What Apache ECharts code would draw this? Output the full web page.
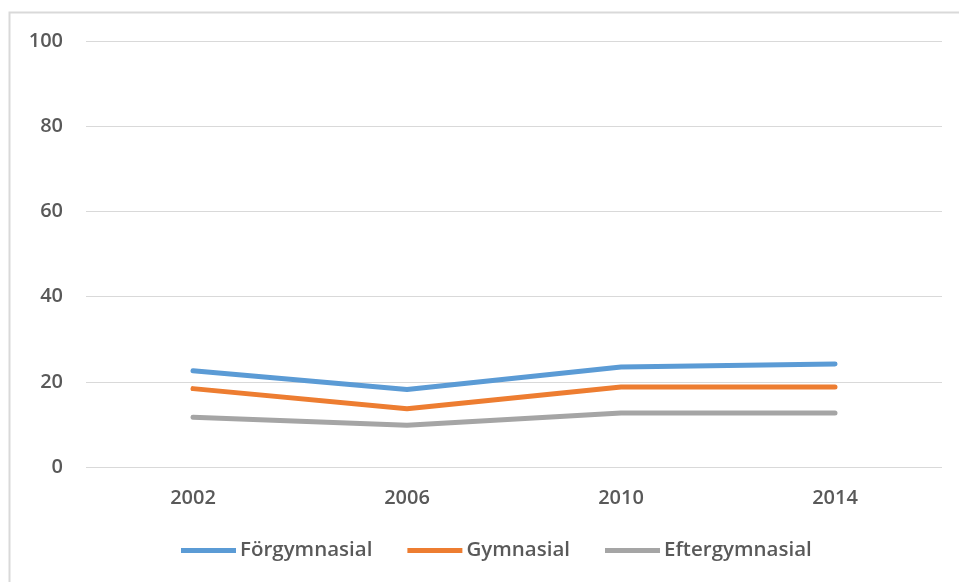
<!DOCTYPE html>
<html>
<head>
<meta charset="utf-8">
<script src="https://cdn.jsdelivr.net/npm/echarts@6/dist/echarts.min.js"></script>
<style>
  html, body { margin: 0; padding: 0; background: #fff; }
  #chart { width: 959px; height: 582px; }
</style>
</head>
<body>
<div id="chart"></div>
<script>
  // data
  const years = ['2002', '2006', '2010', '2014'];
  const forgymnasial = [22.6, 18.2, 23.5, 24.2];
  const gymnasial = [18.4, 13.7, 18.8, 18.8];
  const eftergymnasial = [11.7, 9.8, 12.7, 12.7];

  const textColor = '#595959';
  const font = '"Open Sans", sans-serif';

  const myChart = echarts.init(document.getElementById('chart'));

  const lineSeries = (name, data, color) => ({
    name: name,
    type: 'line',
    data: data,
    showSymbol: false,
    symbol: 'none',
    lineStyle: { color: color, width: 5, cap: 'round', join: 'round' },
    itemStyle: { color: color },
  });

  const option = {
    animation: false,
    backgroundColor: '#fff',
    // frame of the chart area (left and top edges only are visible)
    graphic: [{
      type: 'polyline',
      shape: { points: [[9.5, 582], [9.5, 12.5], [959, 12.5]] },
      style: { stroke: '#d9d9d9', lineWidth: 2, fill: null },
      silent: true,
    }],
    grid: { left: 86, right: 17, top: 41, bottom: 115 },
    legend: {
      bottom: 16,
      left: 176,
      icon: 'rect',
      itemWidth: 55,
      itemHeight: 5,
      itemGap: 35,
      textStyle: { color: textColor, fontSize: 20.5, fontFamily: font, fontWeight: 600, padding: [0, 0, 0, -1] },
      data: ['Förgymnasial', 'Gymnasial', 'Eftergymnasial'],
    },
    xAxis: {
      type: 'category',
      data: years,
      boundaryGap: true,
      axisLine: { show: false },
      axisTick: { show: false },
      axisLabel: { color: textColor, fontSize: 20, fontFamily: font, fontWeight: 600, margin: 21 },
    },
    yAxis: {
      type: 'value',
      min: 0,
      max: 100,
      interval: 20,
      axisLine: { show: false },
      axisTick: { show: false },
      splitLine: { lineStyle: { color: '#d9d9d9', width: 1 } },
      axisLabel: { color: textColor, fontSize: 20, fontFamily: font, fontWeight: 600, margin: 23 },
    },
    series: [
      lineSeries('Förgymnasial', forgymnasial, '#5b9bd5'),
      lineSeries('Gymnasial', gymnasial, '#ed7d31'),
      lineSeries('Eftergymnasial', eftergymnasial, '#a5a5a5'),
    ],
  };

  myChart.setOption(option);
</script>
</body>
</html>
